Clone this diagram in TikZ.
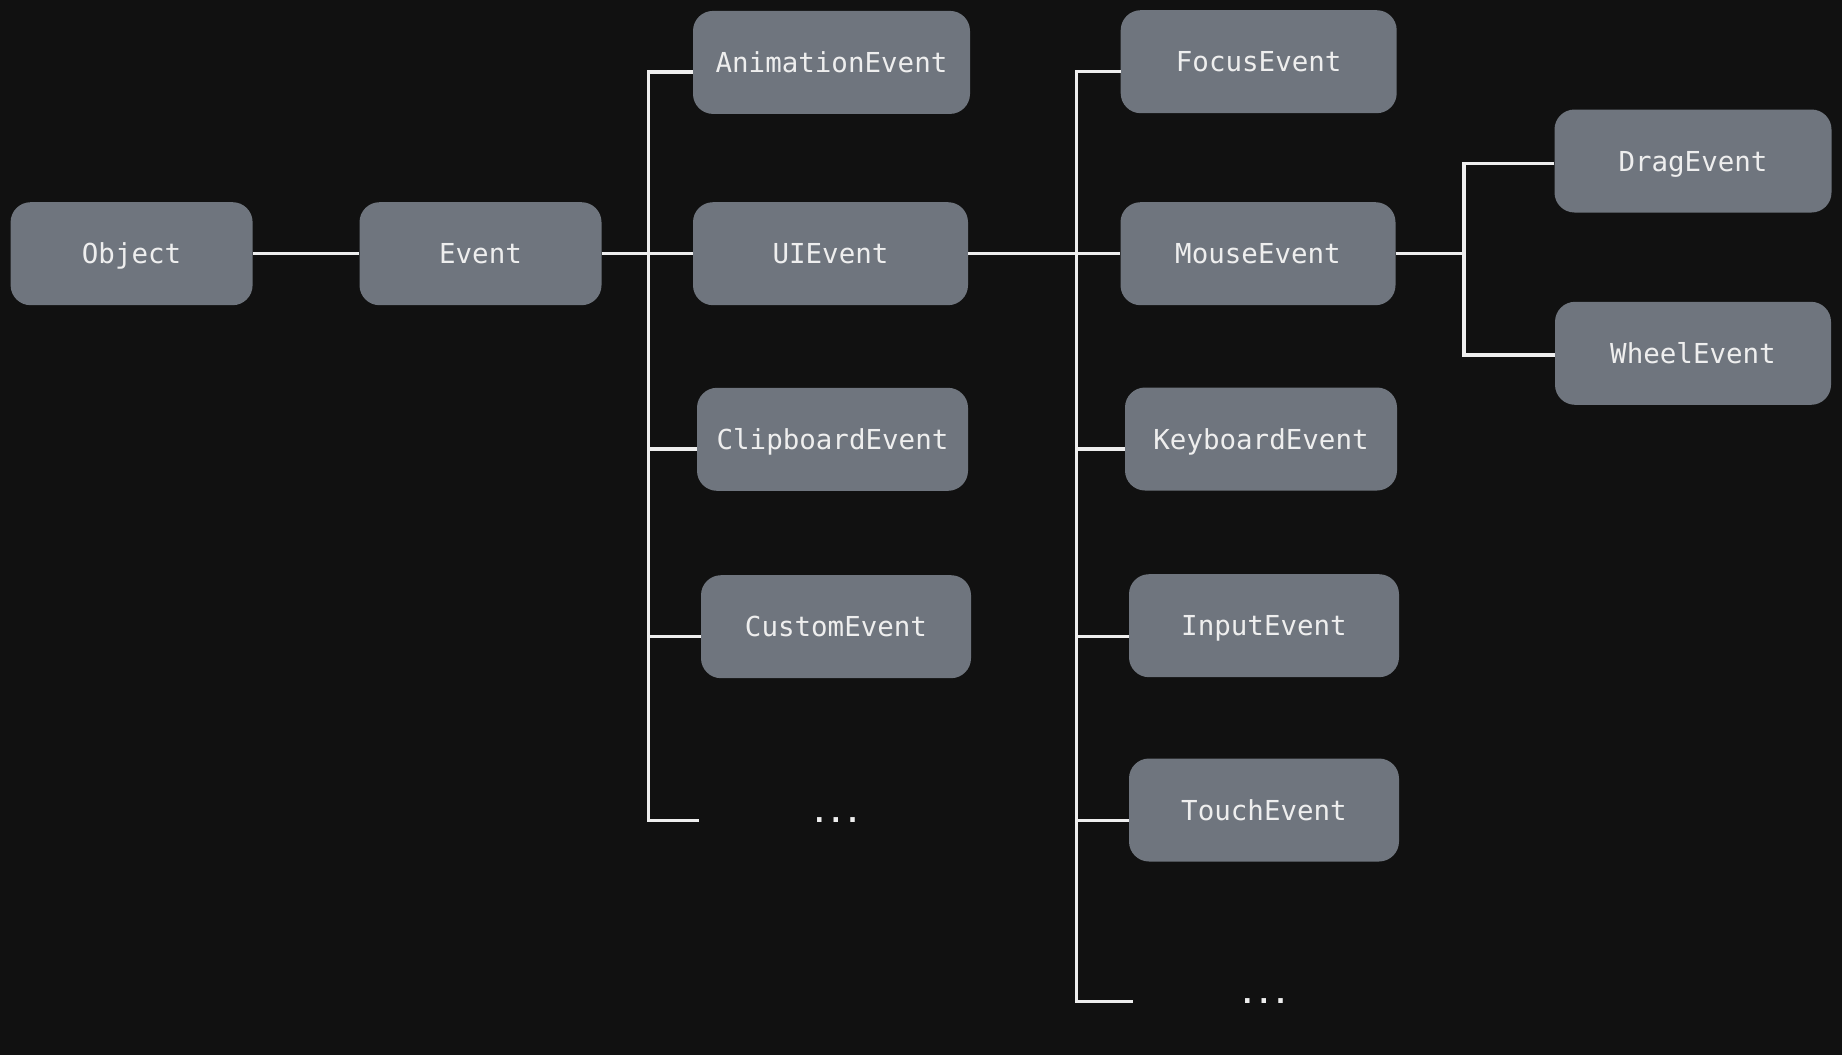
\documentclass[tikz,border=0pt]{standalone}
\usepackage{fontspec}
\setmonofont{DejaVu Sans Mono}

\definecolor{bgcol}{HTML}{111111}
\definecolor{boxcol}{HTML}{6F757E}
\definecolor{linecol}{HTML}{EEEEEE}

\tikzset{
    evbox/.style={fill=boxcol, rounded corners=20pt, minimum height=103pt, inner sep=0pt,
        text height=20pt, text depth=0pt,
        text=linecol, font=\ttfamily\fontsize{27.5}{33}\selectfont},
    evdots/.style={anchor=base, text=linecol, font=\ttfamily\bfseries\fontsize{27.5}{33}\selectfont},
    evline/.style={draw=linecol, line width=3.5pt},
}

\begin{document}
\begin{tikzpicture}[x=1pt,y=-1pt]
        \fill[bgcol] (0,0) rectangle (1842,1055);
        \useasboundingbox (0,0) rectangle (1842,1055);

        % racine
        \node[evbox, minimum width=242pt] (object) at (131.6,253.7) {Object};
        \node[evbox, minimum width=242pt] (event) at (480.5,253.7) {Event};

        % enfants de Event
        \node[evbox, minimum width=277pt] (anim) at (831.5,62.4) {AnimationEvent};
        \node[evbox, minimum width=275pt] (ui) at (830.5,253.7) {UIEvent};
        \node[evbox, minimum width=271pt] (clip) at (832.5,439.3) {ClipboardEvent};
        \node[evbox, minimum width=270pt] (custom) at (836,626.7) {CustomEvent};
        \node[evdots] (dotsA) at (836,822.5) {...};

        % enfants de UIEvent
        \node[evbox, minimum width=276pt] (focus) at (1258.7,61.7) {FocusEvent};
        \node[evbox, minimum width=275pt] (mouse) at (1258,253.7) {MouseEvent};
        \node[evbox, minimum width=272pt] (keyboard) at (1261,439) {KeyboardEvent};
        \node[evbox, minimum width=270pt] (input) at (1264,625.7) {InputEvent};
        \node[evbox, minimum width=270pt] (touch) at (1264,810) {TouchEvent};
        \node[evdots] (dotsB) at (1264,1003.5) {...};

        % enfants de MouseEvent
        \node[evbox, minimum width=277pt] (drag) at (1693,161) {DragEvent};
        \node[evbox, minimum width=276pt] (wheel) at (1693,353.3) {WheelEvent};

        % barres verticales
        \coordinate (cornA) at (648.4,820.7);
        \coordinate (endA) at (698.7,820.7);
        \coordinate (cornB) at (1076.5,1001.7);
        \coordinate (endB) at (1132.7,1001.7);
        \coordinate (busC) at (1464,253.7);

        \draw[evline] (object) -- (event);
        \draw[evline] (event) -- (ui);
        \draw[evline] (ui) -- (mouse);
        \draw[evline] (mouse) -- (busC);

        \draw[evline] ([yshift=-9.5pt]anim.west) -| (cornA) -- (endA);
        \draw[evline] ([yshift=-9.5pt]clip.west) -| (cornA);
        \draw[evline] ([yshift=-10pt]custom.west) -| (cornA);

        \draw[evline] ([yshift=-10pt]focus.west) -| (cornB) -- (endB);
        \draw[evline] ([yshift=-10pt]keyboard.west) -| (cornB);
        \draw[evline] ([yshift=-11pt]input.west) -| (cornB);
        \draw[evline] ([yshift=-10.7pt]touch.west) -| (cornB);

        \draw[evline] ([yshift=-2.3pt]drag.west) -| (busC) |- ([yshift=-1.7pt]wheel.west);
    \end{tikzpicture}
\end{document}
